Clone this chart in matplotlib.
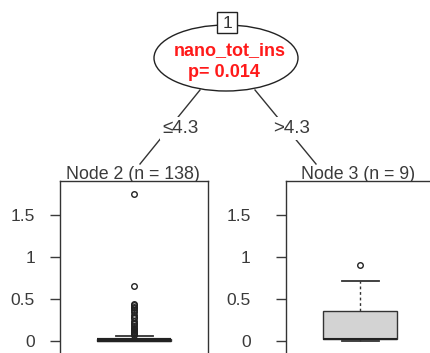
import matplotlib.pyplot as plt
from matplotlib.patches import Ellipse, Rectangle

plt.rcParams['font.family'] = ['Liberation Sans', 'DejaVu Sans']

# tree content
split_var = 'nano_tot_ins'
p_value = 'p= 0.014'
edge_labels = ['\u22644.3', '>4.3']
node_titles = ['Node 2 (n = 138)', 'Node 3 (n = 9)']

# boxplot stats per terminal node: whislo, q1, med, q3, whishi
node2_box = [0.0, 0.0, 0.01, 0.025, 0.06]
node2_out = [0.07, 0.08, 0.09, 0.10, 0.11, 0.12, 0.13, 0.14, 0.16, 0.18,
             0.20, 0.22, 0.24, 0.27, 0.29, 0.31, 0.34, 0.37, 0.39, 0.41,
             0.43, 0.44, 0.65, 1.75]
node3_box = [0.0, 0.02, 0.02, 0.36, 0.71]
node3_out = [0.91]

yticks = [0, 0.5, 1, 1.5]
ytick_labels = ['0', '0.5', '1', '1.5']

W, H = 430, 353
fig = plt.figure(figsize=(W / 100, H / 100), dpi=100)

# overlay in pixel coordinates for the tree part
ov = fig.add_axes([0, 0, 1, 1])
ov.set_xlim(0, W)
ov.set_ylim(H, 0)
ov.axis('off')

ov.plot([200, 140], [90, 164], color='#333333', lw=1)
ov.plot([255, 316], [90, 164], color='#333333', lw=1)
ov.add_patch(Ellipse((226, 58), 144, 66, fc='white', ec='#222222', lw=1, zorder=3))
ov.add_patch(Rectangle((217, 12), 20, 21, fc='white', ec='#222222', lw=1, zorder=4))
ov.text(227, 23, '1', ha='center', va='center', fontsize=12.5, color='#333333', zorder=5)
ov.text(230, 55, split_var, ha='center', va='baseline', fontsize=13,
        fontweight='bold', color='#ff1a1a', zorder=5)
ov.text(224, 77, p_value, ha='center', va='baseline', fontsize=13,
        fontweight='bold', color='#ff1a1a', zorder=5)
for x, lab in zip([181, 292], edge_labels):
    ov.text(x, 133, lab, ha='center', va='baseline', fontsize=13.5, color='#3a3a3a',
            bbox=dict(fc='white', ec='none', pad=2), zorder=5)
for x, lab in zip([133, 358], node_titles):
    ov.text(x, 179, lab, ha='center', va='baseline', fontsize=12.8, color='#3a3a3a')

# terminal node panels
px_per_unit = 84.0
y0_px = 341
top_px, bot_px = 181, 368
ylim = ((y0_px - bot_px) / px_per_unit, (y0_px - top_px) / px_per_unit)


def panel(left_px, box, out, pad, med_lw):
    ax = fig.add_axes([left_px / W, 1 - bot_px / H, 148 / W, (bot_px - top_px) / H])
    st = dict(whislo=box[0], q1=box[1], med=box[2], q3=box[3], whishi=box[4], fliers=out)
    ax.bxp([st], positions=[0.5], widths=0.5, capwidths=0.25, patch_artist=True,
           boxprops=dict(facecolor='#d3d3d3', edgecolor='#333333', lw=1),
           medianprops=dict(color='#222222', lw=med_lw, solid_capstyle='butt'),
           whiskerprops=dict(color='#333333', lw=1, linestyle=(0, (2, 2))),
           capprops=dict(color='#333333', lw=1.3),
           flierprops=dict(marker='o', markersize=4, markerfacecolor='none',
                           markeredgecolor='#222222', markeredgewidth=1))
    ax.set_xlim(0, 1)
    ax.set_ylim(*ylim)
    ax.set_xticks([])
    ax.set_yticks(yticks)
    ax.set_yticklabels(ytick_labels)
    ax.tick_params(axis='y', length=7.5, width=1, pad=pad, labelsize=12.5,
                   colors='#3a3a3a')
    for s in ax.spines.values():
        s.set_color('#333333')
        s.set_linewidth(1)
    return ax


panel(60, node2_box, node2_out, 10.5, 3)
panel(286, node3_box, node3_out, 18, 1.5)

fig.savefig('out.png', dpi=100)
